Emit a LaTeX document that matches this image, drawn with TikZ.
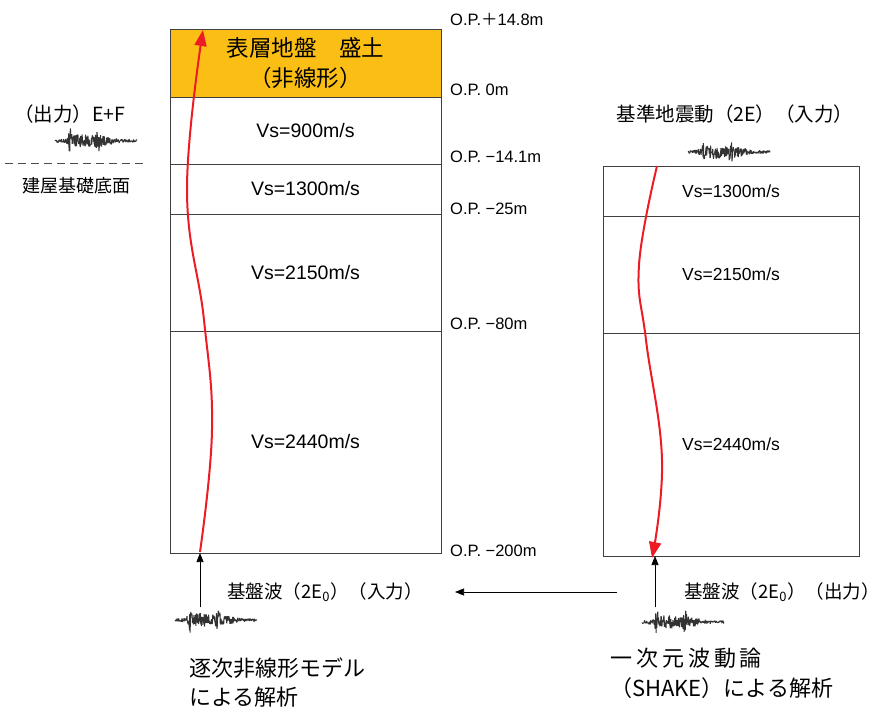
\documentclass[tikz,border=0pt]{standalone}
\usepackage{fontspec}
\setmainfont{Liberation Sans}
\newfontfamily\jp{Noto Sans CJK JP}
\usetikzlibrary{arrows.meta,positioning}
\definecolor{fillsoil}{HTML}{FBBE15}
\definecolor{quake}{HTML}{ED1C24}

% seismogram: #1 = left end x, #2 = centre y, #3 = seed
\newcommand{\seismo}[3]{%
  \pgfmathsetseed{#3}
  \draw[seis] plot[samples=240, domain=0:82] ({#1+\x},{#2+env(\x)*rand});
}

\begin{document}
\begin{tikzpicture}[x=1pt,y=-1pt,
  layer/.style={draw=black!75, line width=0.8pt, outer sep=0pt, inner sep=0pt, minimum width=271pt, font=\fontsize{19.5}{22}\selectfont},
  rlayer/.style={layer, minimum width=256pt, font=\fontsize{17.5}{20}\selectfont},
  oplabel/.style={anchor=west, inner sep=0pt, font=\fontsize{16.5}{19}\selectfont},
  jtext/.style={inner sep=0pt, font=\jp\fontsize{19.5}{23}\selectfont},
  arr/.style={-{Triangle[length=9pt,width=7pt]}, line width=0.7pt},
  redarr/.style={-{Triangle[length=16pt,width=12pt]}, quake, line width=2pt},
  seis/.style={line width=1pt, black!80, line join=bevel},
  declare function={env(\t)=1.5+5*exp(-(((\t-24)/12)^2))+10*exp(-(((\t-15)/1.8)^2))+7*exp(-(((\t-43)/1.8)^2))+4*exp(-(((\t-46)/14)^2));}
]
\useasboundingbox (0,0) rectangle (884,715);

% left column (non-linear model)
\node[layer, fill=fillsoil, minimum height=68pt, align=center, font=\jp\fontsize{22.5}{30}\selectfont] (fill) at (305.5,63) {表層地盤　盛土\\（非線形）};
\node[layer, minimum height=67pt, below=0pt of fill] (L1) {Vs=900m/s};
\node[layer, minimum height=50pt, below=0pt of L1] (L2) {Vs=1300m/s};
\node[layer, minimum height=117pt, below=0pt of L2] (L3) {Vs=2150m/s};
\node[layer, minimum height=222pt, below=0pt of L3] (L4) {Vs=2440m/s};

% right column (SHAKE)
\node[rlayer, minimum height=50pt] (R1) at (731,191) {Vs=1300m/s};
\node[rlayer, minimum height=117pt, below=0pt of R1] (R2) {Vs=2150m/s};
\node[rlayer, minimum height=223pt, below=0pt of R2] (R3) {Vs=2440m/s};

% elevations
\node[oplabel] (op1) at (450,19) {O.P.{\jp＋}14.8m};
\node[oplabel] (op2) at (450,90) {O.P. 0m};
\node[oplabel] (op3) at (450,157) {O.P. −14.1m};
\node[oplabel] (op4) at (450,209) {O.P. −25m};
\node[oplabel] (op5) at (450,324) {O.P. −80m};
\node[oplabel] (op6) at (450,551) {O.P. −200m};

% foundation level
\node[jtext] (outEF) at (70,114) {（出力）E+F};
\draw[dashed, dash pattern=on 8pt off 5pt, black!70, line width=0.7pt] (5,163) -- (145,163);
\node[jtext, font=\jp\fontsize{18}{20}\selectfont] (base) at (77,186) {建屋基礎底面};
\node[jtext] (inSS) at (735,114) {基準地震動（2E）（入力）};

% waves
\seismo{55}{141}{11}
\seismo{688}{152}{23}
\seismo{175}{620}{37}
\seismo{642}{622}{41}

% bedrock waves
\node[jtext, anchor=west, font=\jp\fontsize{18.5}{23}\selectfont] (bedIn) at (227,592) {基盤波（2E\textsubscript{0}）（入力）};
\node[jtext, anchor=west, font=\jp\fontsize{18.5}{23}\selectfont] (bedOut) at (684,592) {基盤波（2E\textsubscript{0}）（出力）};
\coordinate (bedL) at (200,607);
\coordinate (bedR) at (655,607);
\coordinate (passR) at (617,592);
\coordinate (passL) at (455,592);
\draw[arr] (bedL) -- (bedL |- L4.south);
\draw[arr] (bedR) -- (bedR |- R3.south);
\draw[arr] (passR) -- (passL);

% wave propagation
\draw[redarr] plot[smooth, tension=0.7] coordinates {(200,552) (212,430) (204,320) (187,190) (203,30)};
\draw[redarr] plot[smooth, tension=0.7] coordinates {(657,166) (639,265) (646,340) (662,460) (652,558)};

% methods
\node[jtext, anchor=north west, align=left, font=\jp\fontsize{22}{29}\selectfont] (nlText) at (189,658) {逐次非線形モデル\\による解析};
\node[jtext, anchor=north west, align=left, font=\jp\fontsize{22}{30}\selectfont] (shText) at (610,648) {{\addfontfeature{LetterSpace=18}一次元波動論}\\（SHAKE）による解析};
\end{tikzpicture}
\end{document}
